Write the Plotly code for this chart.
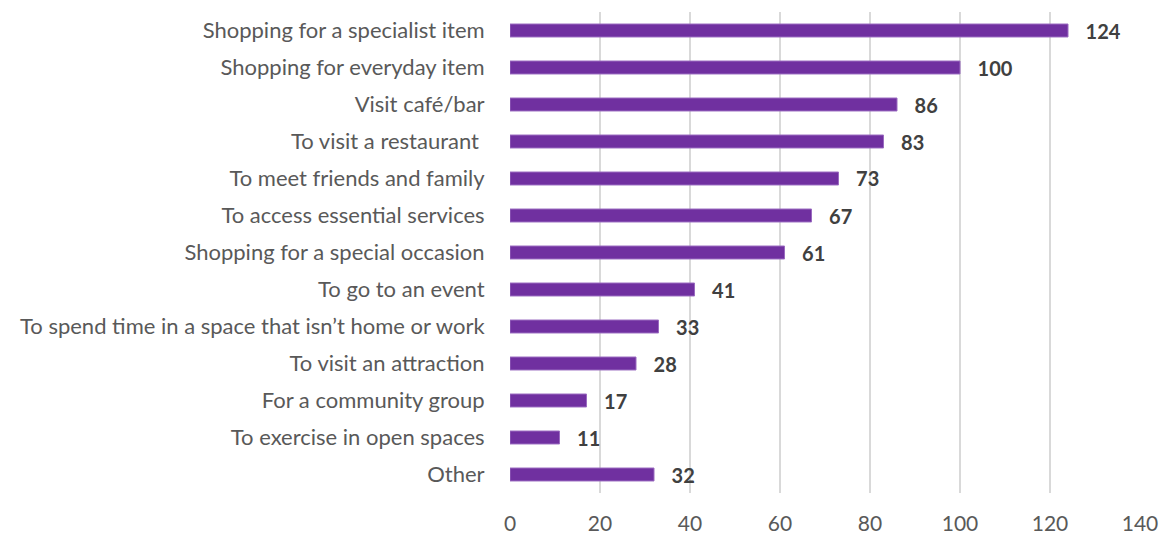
import plotly.graph_objects as go

# Data for the chart
reasons = [
    "Shopping for a specialist item",
    "Shopping for everyday item",
    "Visit café/bar",
    "To visit a restaurant ",
    "To meet friends and family",
    "To access essential services",
    "Shopping for a special occasion",
    "To go to an event",
    "To spend time in a space that isn’t home or work",
    "To visit an attraction",
    "For a community group",
    "To exercise in open spaces",
    "Other",
]
counts = [124, 100, 86, 83, 73, 67, 61, 41, 33, 28, 17, 11, 32]
x_ticks = [0, 20, 40, 60, 80, 100, 120, 140]

fig = go.Figure()

fig.add_trace(go.Bar(
    y=reasons,
    x=counts,
    orientation='h',
    marker=dict(color='#7030A0', line=dict(color='#9A6BC0', width=1)),
    text=[f'   {v}' for v in counts],
    textposition='outside',
    constraintext='none',
    textfont=dict(family='Lato', size=20, color='#404040', weight='bold'),
    cliponaxis=False,
))

# page body has an 8px margin, so the figure origin sits at (8, 8)
fig.update_layout(
    width=1152,
    height=528,
    margin=dict(l=502, r=20, t=4, b=43),
    plot_bgcolor='white',
    paper_bgcolor='white',
    bargap=0.65,
    showlegend=False,
    font=dict(family='Lato', size=22, color='#595959'),
)

fig.update_xaxes(
    range=[0, 140],
    tickvals=x_ticks,
    showgrid=True,
    gridcolor='#D9D9D9',
    gridwidth=1.5,
    zeroline=False,
    showline=False,
    ticks='outside',
    ticklen=12,
    tickcolor='white',
    tickfont=dict(size=21),
    automargin=False,
)
fig.update_yaxes(
    categoryorder='array',
    categoryarray=reasons[::-1],
    showgrid=False,
    ticks='outside',
    ticklen=20,
    tickcolor='white',
    tickfont=dict(size=22),
    automargin=False,
)

fig.write_html("out.html")
